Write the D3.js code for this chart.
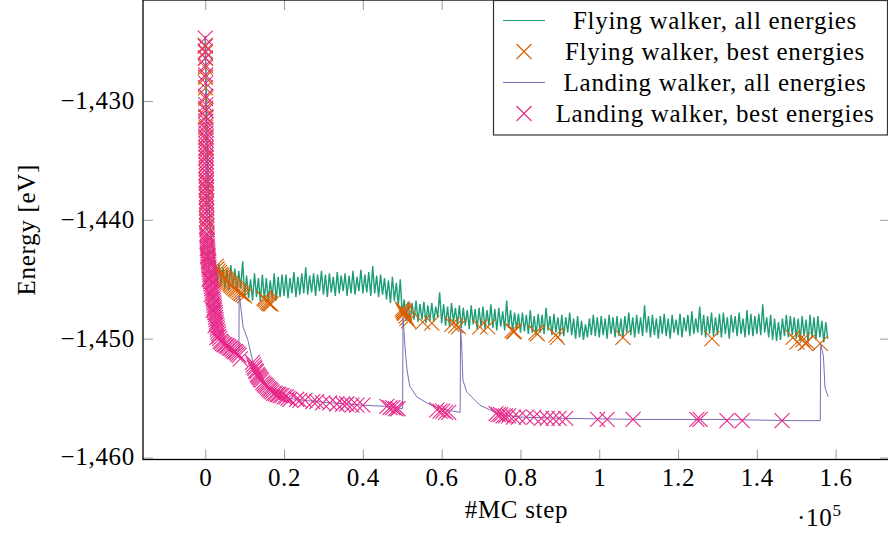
<!DOCTYPE html>
<html>
<head>
<meta charset="utf-8">
<script src="https://cdn.jsdelivr.net/npm/d3@7"></script>
<style>
body { margin: 0; background: #fff; }
text { font-family: "Liberation Serif", "Times New Roman", serif; font-size: 25px; fill: #000; letter-spacing: 0.7px; }
</style>
</head>
<body>
<div id="vis"></div>
<script>
// axis ticks
var xTicks = [0, 20000, 40000, 60000, 80000, 100000, 120000, 140000, 160000];
var xTickLabels = ["0", "0.2", "0.4", "0.6", "0.8", "1", "1.2", "1.4", "1.6"];
var yTicks = [-1460, -1450, -1440, -1430];

// flying walker, all energies: one value every 500 MC steps, starting at step 0
var flyingStep = 500;
var flyingAll = [
  -1424.5, -1434.2, -1439.3, -1441.6, -1443.1, -1443.5, -1445.3, -1443.7, -1445.6, -1444.0,
  -1445.8, -1444.2, -1445.9, -1443.8, -1445.7, -1444.1, -1446.0, -1444.3, -1445.8, -1443.5,
  -1446.4, -1444.7, -1446.6, -1445.0, -1446.8, -1444.5, -1446.5, -1444.9, -1446.9, -1444.6,
  -1446.7, -1444.9, -1446.9, -1445.1, -1446.6, -1444.5, -1446.8, -1444.8, -1446.5, -1444.6,
  -1446.4, -1444.6, -1446.6, -1444.9, -1446.2, -1444.4, -1446.5, -1444.8, -1446.3, -1444.5,
  -1446.2, -1444.0, -1446.3, -1444.7, -1446.1, -1444.5, -1446.4, -1444.6, -1446.0, -1444.3,
  -1446.3, -1444.6, -1446.5, -1444.5, -1446.1, -1444.8, -1446.4, -1444.4, -1446.2, -1444.7,
  -1446.0, -1444.5, -1446.4, -1444.7, -1446.2, -1444.3, -1446.3, -1444.8, -1446.0, -1444.2,
  -1446.2, -1444.6, -1446.1, -1444.4, -1446.4, -1443.9, -1446.2, -1444.7, -1446.5, -1444.6,
  -1446.3, -1444.9, -1446.7, -1445.1, -1447.0, -1444.8, -1446.8, -1445.3, -1447.2, -1445.0,
  -1448.0, -1446.7, -1448.5, -1446.9, -1448.7, -1447.0, -1448.4, -1446.8, -1448.6, -1447.1,
  -1448.4, -1446.9, -1448.7, -1447.2, -1448.5, -1447.0, -1448.6, -1447.3, -1448.2, -1446.1,
  -1448.7, -1447.1, -1448.9, -1447.3, -1449.0, -1447.0, -1448.6, -1447.4, -1448.9, -1447.2,
  -1449.1, -1447.4, -1448.9, -1447.6, -1449.2, -1447.2, -1448.8, -1447.5, -1449.2, -1447.4,
  -1449.0, -1447.3, -1449.2, -1447.6, -1448.9, -1447.1, -1449.1, -1447.5, -1449.3, -1447.4,
  -1449.0, -1447.7, -1449.3, -1446.8, -1449.1, -1447.6, -1449.4, -1447.8, -1449.2, -1447.9,
  -1449.5, -1447.8, -1449.4, -1448.0, -1449.6, -1447.6, -1449.5, -1448.1, -1449.7, -1447.9,
  -1449.5, -1448.0, -1449.6, -1447.4, -1449.3, -1448.1, -1449.7, -1447.9, -1449.5, -1448.2,
  -1449.7, -1448.0, -1449.8, -1448.2, -1449.5, -1447.8, -1449.7, -1448.3, -1450.0, -1448.1,
  -1449.9, -1448.5, -1450.1, -1448.8, -1449.9, -1448.3, -1449.7, -1448.0, -1449.8, -1448.2,
  -1449.9, -1448.1, -1449.7, -1448.3, -1450.0, -1448.0, -1449.6, -1448.2, -1449.9, -1448.1,
  -1449.8, -1448.3, -1450.0, -1448.1, -1449.5, -1447.8, -1449.7, -1448.2, -1449.9, -1448.0,
  -1449.6, -1448.2, -1449.8, -1447.2, -1449.5, -1448.1, -1449.9, -1448.0, -1449.7, -1448.3,
  -1450.0, -1448.1, -1449.6, -1447.9, -1449.8, -1448.3, -1450.0, -1448.0, -1449.5, -1448.4,
  -1449.7, -1447.9, -1449.9, -1448.2, -1449.4, -1448.0, -1449.8, -1447.7, -1449.6, -1448.3,
  -1449.5, -1447.3, -1449.7, -1448.0, -1449.9, -1448.1, -1449.6, -1447.8, -1449.8, -1448.2,
  -1449.7, -1447.9, -1449.9, -1447.8, -1449.6, -1448.2, -1450.0, -1448.0, -1449.5, -1448.1,
  -1449.8, -1447.8, -1449.6, -1448.3, -1449.9, -1447.6, -1449.7, -1447.9, -1449.8, -1448.1,
  -1449.6, -1447.9, -1449.7, -1447.1, -1449.5, -1448.2, -1449.9, -1448.0, -1450.1, -1448.3,
  -1450.2, -1448.6, -1450.1, -1448.3, -1449.8, -1448.0, -1449.9, -1448.1, -1449.7, -1448.2,
  -1450.0, -1448.3, -1450.2, -1448.1, -1449.8, -1448.4, -1450.3, -1448.0, -1449.9, -1448.2,
  -1450.1, -1448.1, -1449.9, -1448.5, -1450.3, -1448.6, -1450.0
];

// flying walker, best energies [step, energy]
var flyingBest = [
  [0, -1425.3], [15, -1425.8], [30, -1426.4], [45, -1427.2], [60, -1428.0], [75, -1428.9],
  [90, -1429.8], [105, -1430.6], [120, -1431.3], [135, -1432.2], [150, -1433.1], [165, -1434.0],
  [180, -1434.7], [195, -1435.4], [210, -1436.0], [230, -1436.7], [250, -1437.3], [270, -1438.0],
  [290, -1438.6], [310, -1439.3], [340, -1440.0], [370, -1440.6], [400, -1441.2], [450, -1441.8],
  [520, -1442.4], [650, -1443.0], [900, -1443.5],
  [2800, -1443.9], [3000, -1444.1], [3300, -1444.3], [3600, -1444.45], [3900, -1444.6], [4200, -1444.7],
  [4500, -1444.8], [4800, -1444.9], [5100, -1445.0], [5400, -1445.1], [5700, -1445.2], [6000, -1445.3],
  [6300, -1445.4], [6600, -1445.5], [6900, -1445.6], [7200, -1445.7], [7600, -1445.8], [7900, -1445.9],
  [8300, -1446.0], [8700, -1446.1], [9100, -1446.2], [9500, -1446.3], [10000, -1446.4],
  [14900, -1446.6], [15200, -1446.7], [15500, -1446.8], [15800, -1446.9], [16100, -1447.0],
  [16400, -1447.05], [16700, -1447.1],
  [50000, -1447.5], [50200, -1447.6], [50300, -1447.7], [50500, -1447.8], [50600, -1447.9],
  [50900, -1448.1], [51200, -1448.3], [51600, -1448.5],
  [55200, -1448.6], [57500, -1448.7], [62600, -1448.8], [63600, -1448.9], [64300, -1449.0],
  [69700, -1449.0], [71700, -1449.0], [77900, -1449.3], [78200, -1449.4], [78500, -1449.4],
  [83900, -1449.5], [84300, -1449.6], [89000, -1449.7], [89400, -1449.9], [106000, -1449.9],
  [128600, -1450.0], [149200, -1449.9], [150200, -1450.3], [151700, -1450.1], [152300, -1450.4],
  [152800, -1450.3], [156100, -1450.4]
];

// landing walker, all energies [step, energy]
var landingAll = [
  [0, -1424.6], [300, -1438.5], [600, -1442.5], [1000, -1444.3], [1500, -1445.6], [2000, -1446.7],
  [2500, -1447.9], [3000, -1449.0], [3500, -1449.8], [4300, -1450.3], [6000, -1450.8], [8550, -1451.0],
  [8600, -1446.4], [8760, -1446.6], [9600, -1449.0], [10800, -1450.1], [12000, -1451.8], [12300, -1452.2],
  [13400, -1453.1], [15200, -1453.9], [17400, -1454.6], [20700, -1455.0], [25300, -1455.2], [31600, -1455.4],
  [40000, -1455.6], [46100, -1455.7], [50100, -1455.9],
  [50200, -1448.2], [50700, -1450.7], [51200, -1452.6], [51900, -1454.0], [53700, -1454.9], [56200, -1455.4],
  [58800, -1455.8], [62900, -1456.1], [64700, -1456.2],
  [64800, -1449.0], [65100, -1450.7], [65400, -1453.5], [66400, -1454.5], [67900, -1455.0], [69700, -1455.6],
  [72300, -1456.0], [74800, -1456.4], [79900, -1456.6], [90000, -1456.7], [110000, -1456.8], [130000, -1456.8],
  [150000, -1456.9], [156100, -1456.9],
  [156200, -1450.5], [156600, -1451.0], [156900, -1451.5], [157300, -1454.1], [157800, -1454.6], [158100, -1454.9]
];

// landing walker, best energies [step, energy]
var landingBest = [
  [0, -1424.7], [20, -1425.4], [40, -1425.9], [60, -1426.4], [80, -1427.0], [90, -1427.8], [100, -1428.5],
  [120, -1429.6], [130, -1430.3], [140, -1430.8], [150, -1431.4], [160, -1431.7], [170, -1432.0], [180, -1432.4],
  [190, -1432.7], [200, -1433.0], [205, -1433.3], [210, -1433.6], [220, -1433.9], [225, -1434.2], [230, -1434.5],
  [240, -1434.8], [245, -1435.1], [250, -1435.4], [260, -1435.7], [265, -1436.0], [270, -1436.3], [280, -1436.6],
  [285, -1436.9], [290, -1437.2], [300, -1437.5], [305, -1437.8], [310, -1438.1], [320, -1438.4], [330, -1438.7],
  [340, -1439.0], [350, -1439.3], [360, -1439.6], [370, -1439.9], [380, -1440.2], [390, -1440.5], [400, -1440.8],
  [430, -1441.2], [460, -1441.4], [490, -1441.6], [520, -1441.8], [550, -1442.0], [580, -1442.2], [610, -1442.4],
  [640, -1442.6], [680, -1442.8], [720, -1443.0], [760, -1443.2], [800, -1443.4], [850, -1443.6], [900, -1443.8],
  [950, -1444.0], [1000, -1444.2], [1070, -1444.4], [1140, -1444.6], [1210, -1444.8], [1280, -1445.0],
  [1360, -1445.2], [1450, -1445.4], [1540, -1445.6], [1640, -1445.8], [1740, -1446.0], [1840, -1446.2],
  [1930, -1446.4], [2010, -1446.6], [2090, -1446.8], [2170, -1447.0], [2250, -1447.2], [2330, -1447.4],
  [2410, -1447.6], [2490, -1447.8], [2570, -1448.0], [2650, -1448.2], [2740, -1448.4], [2830, -1448.6],
  [2920, -1448.8], [3010, -1449.0], [3110, -1449.2], [3220, -1449.4], [3340, -1449.6], [3480, -1449.8],
  [3650, -1450.0], [3850, -1450.2], [4100, -1450.3], [4400, -1450.4],
  [600, -1443.1], [1000, -1445.0], [1500, -1446.3], [2000, -1447.6], [2500, -1448.9], [3000, -1449.9],
  [4700, -1450.5], [5000, -1450.5], [5300, -1450.6], [5600, -1450.6], [5900, -1450.7], [6200, -1450.8],
  [6500, -1450.8], [6800, -1450.9], [7100, -1451.0], [7400, -1451.1], [7700, -1451.1], [8000, -1451.2],
  [8300, -1451.3], [8600, -1451.4], [8900, -1451.7],
  [12000, -1452.0], [12200, -1452.2], [12400, -1452.4], [12600, -1452.5], [12800, -1452.7], [13000, -1452.8],
  [13200, -1453.0], [13400, -1453.1], [13600, -1453.2], [13800, -1453.3], [14000, -1453.4], [14300, -1453.5],
  [14600, -1453.7], [14900, -1453.8], [15200, -1453.9], [15500, -1454.0], [15800, -1454.1], [16100, -1454.2],
  [16400, -1454.3], [16700, -1454.4], [17000, -1454.5], [17400, -1454.6], [17800, -1454.6], [18200, -1454.7],
  [18600, -1454.7], [19000, -1454.8], [19500, -1454.8], [20000, -1454.9], [20500, -1454.9], [21000, -1455.0],
  [21500, -1455.1], [23200, -1455.1], [24000, -1455.2], [25300, -1455.2], [27300, -1455.3], [28300, -1455.3],
  [29800, -1455.4], [31600, -1455.4], [33400, -1455.5], [34900, -1455.5], [35900, -1455.5], [37200, -1455.6],
  [38500, -1455.6], [40000, -1455.6],
  [46100, -1455.7], [46900, -1455.8], [47600, -1455.8], [48300, -1455.9], [48900, -1455.9],
  [58800, -1456.0], [59600, -1456.1], [60300, -1456.1], [61000, -1456.2], [61800, -1456.2],
  [73800, -1456.3], [74400, -1456.4], [75000, -1456.4], [75600, -1456.5], [76200, -1456.5], [77000, -1456.5],
  [78200, -1456.6], [79500, -1456.6], [81500, -1456.6], [83400, -1456.6], [85300, -1456.7], [86800, -1456.7],
  [88300, -1456.7], [89800, -1456.7], [91500, -1456.7],
  [99600, -1456.8], [102000, -1456.8], [108600, -1456.8], [124800, -1456.8], [125600, -1456.8],
  [132400, -1456.9], [136300, -1456.9], [146400, -1456.9]
];

var legendLabels = ["Flying walker, all energies", "Flying walker, best energies",
                    "Landing walker, all energies", "Landing walker, best energies"];
var colors = ["#1b9e77", "#d95f02", "#7570b3", "#e7298a"];

var width = 888, height = 533;
var box = {left: 143, top: 0, right: 890, bottom: 459.5};

var svg = d3.select("#vis")
            .append("svg")
            .attr("width", width)
            .attr("height", height);

svg.append("rect").attr("width", width).attr("height", height).attr("fill", "#fff");

var x = d3.scaleLinear()
          .domain([-15800, 173800])
          .range([box.left, box.right]);

var y = d3.scaleLinear()
          .domain([-1460.17, -1421.5])
          .range([box.bottom, box.top]);

////////// axes //////////

function styleAxis(g) {
  g.attr("font-size", null).attr("font-family", null);
  g.select(".domain").remove();
  g.selectAll(".tick line").attr("stroke", "#9a9a9a").attr("stroke-width", 1);
}

svg.append("g")
   .attr("transform", "translate(0," + box.bottom + ")")
   .call(d3.axisBottom(x).tickValues(xTicks).tickSize(-10)
           .tickFormat(function(d, i) { return xTickLabels[i]; }))
   .call(styleAxis)
   .selectAll("text").attr("y", 26.5).attr("dy", null);

svg.append("g")
   .attr("transform", "translate(0," + box.top + ")")
   .call(d3.axisTop(x).tickValues(xTicks).tickSize(-10).tickFormat(""))
   .call(styleAxis);

svg.append("g")
   .attr("transform", "translate(" + box.left + ",0)")
   .call(d3.axisLeft(y).tickValues(yTicks).tickSize(-10).tickFormat(d3.format(",")))
   .call(styleAxis)
   .selectAll("text").attr("x", -8).attr("dy", null).attr("y", 7.5);

svg.append("g")
   .attr("transform", "translate(" + box.right + ",0)")
   .call(d3.axisRight(y).tickValues(yTicks).tickSize(-10).tickFormat(""))
   .call(styleAxis);

////////// plot //////////

var line = d3.line()
             .x(function(d) { return x(d[0]); })
             .y(function(d) { return y(d[1]); });

var flyingPts = flyingAll.map(function(e, i) { return [i * flyingStep, e]; });

svg.append("path")
   .datum(flyingPts)
   .attr("d", line)
   .attr("fill", "none")
   .attr("stroke", colors[0])
   .attr("stroke-width", 1.4)
   .attr("stroke-linejoin", "miter")
   .attr("stroke-miterlimit", 2);

var cross = "M-7.5,-7.5L7.5,7.5M-7.5,7.5L7.5,-7.5";

function drawCrosses(data, color) {
  svg.append("g")
     .selectAll("path")
     .data(data)
     .enter()
     .append("path")
     .attr("d", cross)
     .attr("transform", function(d) { return "translate(" + x(d[0]) + "," + y(d[1]) + ")"; })
     .attr("fill", "none")
     .attr("stroke", color)
     .attr("stroke-width", 1.1);
}

drawCrosses(flyingBest, colors[1]);

svg.append("path")
   .datum(landingAll)
   .attr("d", line)
   .attr("fill", "none")
   .attr("stroke", colors[2])
   .attr("stroke-width", 1);

drawCrosses(landingBest, colors[3]);

// frame
svg.append("rect")
   .attr("x", box.left)
   .attr("y", box.top)
   .attr("width", box.right - box.left)
   .attr("height", box.bottom - box.top)
   .attr("fill", "none")
   .attr("stroke", "#000")
   .attr("stroke-width", 1.3);

////////// labels //////////

svg.append("text")
   .attr("x", (box.left + box.right) / 2)
   .attr("y", 518)
   .attr("text-anchor", "middle")
   .text("#MC step");

svg.append("text")
   .attr("transform", "translate(35," + (box.bottom / 2) + ") rotate(-90)")
   .attr("text-anchor", "middle")
   .text("Energy [eV]");

var expo = svg.append("text")
              .attr("x", 797)
              .attr("y", 526)
              .text("·10");
expo.append("tspan")
    .attr("dy", -10)
    .style("font-size", "17px")
    .text("5");

////////// legend //////////

var legend = svg.append("g").attr("class", "legend");

legend.append("rect")
      .attr("x", 493.5)
      .attr("y", 0.5)
      .attr("width", 394)
      .attr("height", 134.5)
      .attr("fill", "#fff")
      .attr("stroke", "#333")
      .attr("stroke-width", 1.2);

legendLabels.forEach(function(label, i) {
  var cy = 20.5 + i * 31;
  if (i % 2 == 0) {
    legend.append("line")
          .attr("x1", 503).attr("x2", 545)
          .attr("y1", cy).attr("y2", cy)
          .attr("stroke", colors[i])
          .attr("stroke-width", 1);
  } else {
    legend.append("path")
          .attr("d", cross)
          .attr("transform", "translate(524," + cy + ")")
          .attr("fill", "none")
          .attr("stroke", colors[i])
          .attr("stroke-width", 1.1);
  }
  legend.append("text")
        .attr("x", 715)
        .attr("y", cy + 8)
        .attr("text-anchor", "middle")
        .text(label);
});
</script>
</body>
</html>
